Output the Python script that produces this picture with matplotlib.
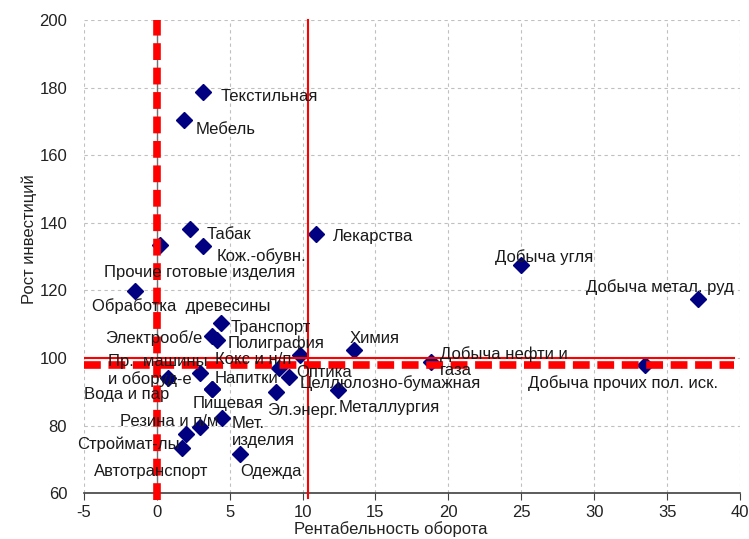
import matplotlib
matplotlib.use('Agg')
import matplotlib.pyplot as plt

plt.rcParams['font.family'] = ['Liberation Sans', 'DejaVu Sans']
plt.rcParams['axes.unicode_minus'] = False

# Industries: profitability of turnover (x) vs investment growth (y)
names = ['Текстильная', 'Мебель', 'Табак', 'Прочие готовые изделия', 'Кож.-обувн.',
         'Лекарства', 'Обработка  древесины', 'Добыча угля', 'Добыча метал. руд',
         'Транспорт', 'Электрооб/е', 'Полиграфия', 'Кокс и н/п', 'Химия',
         'Добыча нефти и\nгаза', 'Добыча прочих пол. иск.', 'Оптика',
         'Целлюлозно-бумажная', 'Эл.энерг.', 'Металлургия', 'Напитки',
         'Пр.  машины\nи оборуд-е', 'Пищевая', 'Вода и пар', 'Мет.\nизделия',
         'Резина и п/м', 'Строймат-лы', 'Автотранспорт', 'Одежда']
profit = [3.2, 1.85, 2.25, 0.2, 3.2,
          10.9, -1.5, 25.0, 37.1,
          4.4, 3.8, 4.15, 9.8, 13.55,
          18.8, 33.5, 8.4,
          9.1, 8.15, 12.4, 2.95,
          0.75, 3.8, 3.8, 4.45,
          2.95, 2.0, 1.7, 5.7]
growth = [178.7, 170.4, 138.1, 133.4, 133.1,
          136.7, 119.8, 127.5, 117.4,
          110.3, 106.5, 105.3, 100.9, 102.3,
          98.8, 97.9, 97.0,
          94.3, 89.9, 90.5, 95.5,
          94.0, 90.8, 90.8, 82.2,
          79.5, 77.5, 73.3, 71.6]

# reference lines
avg_profit = 0.0
avg_growth = 97.9
base_profit = 10.4
base_growth = 100

# label placement: offset in pixels and horizontal alignment
offsets = [(17, -5, 'left'), (12, -10, 'left'), (17, -5, 'left'), (40, -27, 'center'),
           (13, -10, 'left'), (17, -3, 'left'), (46, -15, 'center'), (23, 8, 'center'),
           (36, 12, 'right'), (10, -4, 'left'), (-10, -2, 'right'), (10, -3, 'left'),
           (-8, -5, 'right'), (-5, 12, 'left'), (9, 0, 'left'), (-22, -18, 'center'),
           (17, -4, 'left'), (10, -6, 'left'), (-9, -18, 'left'), (1, -17, 'left'),
           (15, -5, 'left'), (-60, 8, 'left'), (-20, -14, 'left'), (-43, -5, 'right'),
           (10, -14, 'left'), (-31, 6, 'center'), (-6, -10, 'right'), (-30, -23, 'center'),
           (0, -18, 'left')]

fig = plt.figure(figsize=(7.49, 5.39), dpi=100)
ax = fig.add_axes([0.112, 0.085, 0.876, 0.878])

ax.set_xlim(-5, 40)
ax.set_ylim(60, 200)
ax.set_xticks(range(-5, 41, 5))
ax.set_yticks(range(60, 201, 20))

ax.grid(True, color='#c0c0c0', linestyle=(0, (3, 3)), linewidth=0.8)
ax.set_axisbelow(True)
for side in ['top', 'right', 'left']:
    ax.spines[side].set_visible(False)
ax.spines['bottom'].set_color('#404040')
ax.spines['bottom'].set_linewidth(1.2)
ax.tick_params(axis='x', direction='out', length=5, color='#404040', labelsize=12, labelcolor='#222222')
ax.tick_params(axis='y', length=0, labelsize=12, labelcolor='#222222', pad=12)

# vertical axis crossing at zero
ax.axvline(0, color='#707070', lw=1.0, zorder=1)

ax.plot(profit, growth, linestyle='none', marker='D', ms=8, color='#000080', zorder=3)

for name, x, y, (dx, dy, ha) in zip(names, profit, growth, offsets):
    ax.annotate(name, (x, y), xytext=(dx, dy), textcoords='offset pixels',
                ha=ha, va='center', fontsize=12, color='#1a1a1a', zorder=5,
                linespacing=1.15)

ax.plot([base_profit, base_profit], [58.5, 200], color='red', lw=1.5, zorder=4, clip_on=False)
ax.plot([-5, 39.6], [base_growth, base_growth], color='red', lw=1.5, zorder=4)
ax.plot([avg_profit, avg_profit], [58, 200], color='red', lw=5.5, dashes=[2.2, 1.0], zorder=4, clip_on=False)
ax.plot([-5, 39.6], [avg_growth, avg_growth], color='red', lw=5.5, dashes=[2.2, 1.0], zorder=4)

ax.set_xlabel('Рентабельность оборота', fontsize=12, color='#222222')
ax.set_ylabel('Рост инвестиций', fontsize=12, color='#222222')
ax.xaxis.set_label_coords(0.468, -0.06)
ax.yaxis.set_label_coords(-0.072, 0.537)

fig.savefig('out.png', dpi=100)
